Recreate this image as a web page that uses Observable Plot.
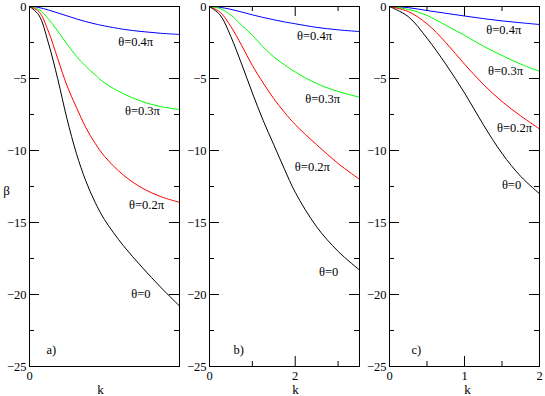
<!DOCTYPE html>
<html>
<head>
<meta charset="utf-8">
<script src="https://cdn.jsdelivr.net/npm/d3@7"></script>
<script src="https://cdn.jsdelivr.net/npm/@observablehq/plot@0.6"></script>
<style>
  html, body { margin: 0; padding: 0; background: white; }
  #row { display: flex; flex-direction: row; width: 545px; height: 396px; }
  #row svg { display: block; }
</style>
</head>
<body>
<div id="row"></div>
<script>
// ---------- data ----------
const seriesColors = ["blue", "#00ff00", "red", "black"];
const curveLabels = ["θ=0.4π", "θ=0.3π", "θ=0.2π", "θ=0"];
const panelTags = ["a)", "b)", "c)"];

// panel a
const kA = [0, 0.25, 0.5, 0.75, 1, 1.25, 1.5, 1.75, 2, 2.5, 3, 3.5, 4];
const blueA  = [0, -0.07, -0.24, -0.44, -0.65, -0.86, -1.05, -1.21, -1.35, -1.58, -1.74, -1.86, -1.94];
const greenA = [0, -0.2, -0.85, -1.7, -2.6, -3.45, -4.15, -4.75, -5.3, -6.05, -6.6, -6.95, -7.15];
const redA   = [0, -0.35, -1.7, -3.6, -5.5, -7.0, -8.4, -9.5, -10.4, -11.7, -12.6, -13.2, -13.6];
const blackA = [0, -0.6, -2.5, -5.0, -7.8, -10.2, -12.1, -13.6, -14.8, -16.6, -18.1, -19.5, -20.8];
const labelKA = [2.83, 3.01, 3.12, 2.97];
const labelBetaA = [-2.48, -7.28, -13.8, -19.95];

// panel b
const kB = [0, 0.25, 0.5, 0.75, 1, 1.25, 1.5, 1.75, 2, 2.5, 3, 3.5];
const blueB  = [0, -0.06, -0.2, -0.38, -0.58, -0.76, -0.92, -1.07, -1.2, -1.45, -1.62, -1.74];
const greenB = [0, -0.15, -0.6, -1.3, -2.0, -2.8, -3.5, -4.05, -4.55, -5.35, -5.9, -6.3];
const redB   = [0, -0.4, -1.4, -2.7, -4.1, -5.3, -6.4, -7.35, -8.2, -9.6, -10.9, -12.0];
const blackB = [0, -0.6, -2.1, -4.0, -6.0, -7.9, -9.6, -11.3, -12.9, -15.3, -17.0, -18.3];
const labelKB = [2.45, 2.64, 2.40, 2.78];
const labelBetaB = [-2.07, -6.41, -11.16, -18.42];

// panel c
const kC = [0, 0.25, 0.5, 0.75, 1, 1.25, 1.5, 1.75, 2];
const blueC  = [0, -0.08, -0.28, -0.47, -0.66, -0.84, -1.0, -1.13, -1.25];
const greenC = [0, -0.2, -0.62, -1.3, -2.0, -2.75, -3.4, -4.0, -4.5];
const redC   = [0, -0.35, -1.2, -2.5, -4.0, -5.4, -6.6, -7.6, -8.5];
const blackC = [0, -0.7, -2.2, -4.0, -6.0, -8.2, -10.2, -11.8, -13.0];
const labelKC = [1.524, 1.547, 1.667, 1.627];
const labelBetaC = [-1.61, -4.51, -8.45, -12.38];

// ticks
const yMajor = [0, -5, -10, -15, -20, -25];
const yMinor = [-2.5, -7.5, -12.5, -17.5, -22.5];
const xDomainA = [0, 4], xMajorA = [], xMinorA = [], xLabelsA = [0];
const xDomainB = [0, 3.5], xMajorB = [0, 2], xMinorB = [1, 3], xLabelsB = [0, 2];
const xDomainC = [0, 2], xMajorC = [0, 1, 2], xMinorC = [0.5, 1.5], xLabelsC = [0, 1, 2];

// ---------- drawing ----------
const HEIGHT = 396, MT = 6, MB = 30, ML = 29;
const FONT = "Liberation Serif, Times New Roman, serif";

function panel({width, marginRight, domain, k, series, labK, labB, xMaj, xMin, xLab, tag, tagDx, kDx, beta}) {
  const W = width - ML - marginRight;
  const H = HEIGHT - MT - MB;
  const marks = [];
  series.forEach((s, i) => {
    marks.push(Plot.line(k.map((kv, j) => ({k: kv, b: s[j]})),
      {x: "k", y: "b", stroke: seriesColors[i], strokeWidth: 1, curve: "catmull-rom"}));
  });
  const tf = {fontFamily: FONT, fontSize: 12.5};
  marks.push(
    Plot.tickY(yMajor, {insetRight: W - 10, stroke: "black"}),
    Plot.tickY(yMajor, {insetLeft: W - 10, stroke: "black"}),
    Plot.tickY(yMinor, {insetRight: W - 5, stroke: "black"}),
    Plot.tickY(yMinor, {insetLeft: W - 5, stroke: "black"}),
    Plot.tickX(xMaj, {insetTop: H - 10, stroke: "black"}),
    Plot.tickX(xMaj, {insetBottom: H - 10, stroke: "black"}),
    Plot.tickX(xMin, {insetTop: H - 5, stroke: "black"}),
    Plot.tickX(xMin, {insetBottom: H - 5, stroke: "black"}),
    Plot.frame({stroke: "black", strokeWidth: 1}),
    Plot.axisY(yMajor, {tickSize: 0, tickPadding: 3, label: null, ...tf}),
    Plot.axisX(xLab, {tickSize: 0, tickPadding: 5, label: null, ...tf}),
    Plot.text(curveLabels, {x: (d, i) => labK[i], y: (d, i) => labB[i], text: d => d, fill: "black", ...tf}),
    Plot.text(["k"], {frameAnchor: "bottom", dx: kDx, dy: 23, lineAnchor: "middle", fontFamily: FONT, fontSize: 13}),
    Plot.text([tag], {frameAnchor: "bottom-left", dx: tagDx, dy: -17, textAnchor: "start", lineAnchor: "middle", ...tf})
  );
  if (beta) marks.push(Plot.text(["β"], {frameAnchor: "left", dx: -23, dy: 4, textAnchor: "middle", lineAnchor: "middle", fontFamily: FONT, fontSize: 13}));
  return Plot.plot({
    width, height: HEIGHT,
    marginLeft: ML, marginRight, marginTop: MT, marginBottom: MB,
    x: {domain},
    y: {domain: [-25, 0]},
    style: {fontFamily: FONT, background: "white", color: "black", overflow: "visible"},
    marks
  });
}

const row = document.getElementById("row");
row.append(panel({width: 180, marginRight: 1, domain: xDomainA, k: kA,
  series: [blueA, greenA, redA, blackA], labK: labelKA, labB: labelBetaA,
  xMaj: xMajorA, xMin: xMinorA, xLab: xLabelsA, tag: panelTags[0], tagDx: 17, kDx: -4, beta: true}));
row.append(panel({width: 180, marginRight: 1, domain: xDomainB, k: kB,
  series: [blueB, greenB, redB, blackB], labK: labelKB, labB: labelBetaB,
  xMaj: xMajorB, xMin: xMinorB, xLab: xLabelsB, tag: panelTags[1], tagDx: 24, kDx: 11, beta: false}));
row.append(panel({width: 185, marginRight: 6, domain: xDomainC, k: kC,
  series: [blueC, greenC, redC, blackC], labK: labelKC, labB: labelBetaC,
  xMaj: xMajorC, xMin: xMinorC, xLab: xLabelsC, tag: panelTags[2], tagDx: 22, kDx: 3, beta: false}));
</script>
</body>
</html>
